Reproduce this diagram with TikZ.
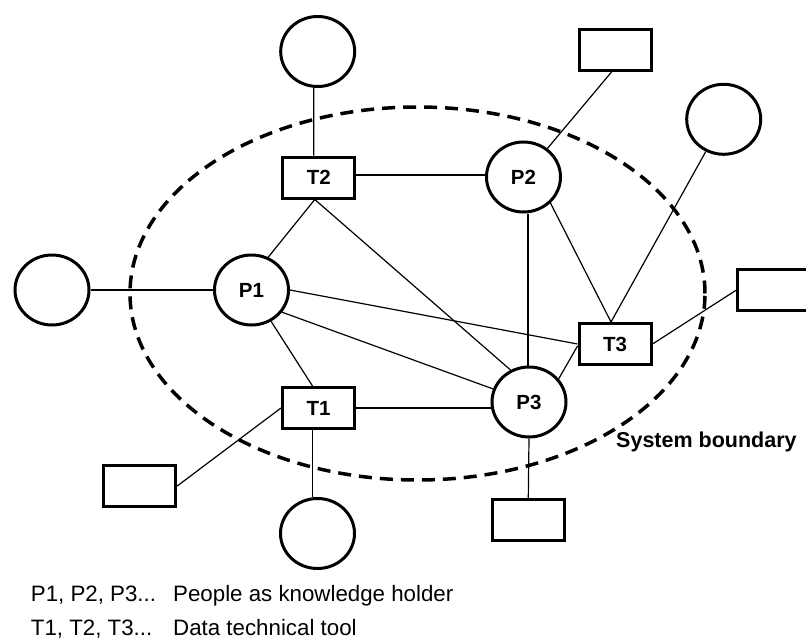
\documentclass[tikz,border=0pt]{standalone}
\usepackage{fontspec}
\setmainfont{Liberation Sans}
\usetikzlibrary{shapes.geometric}
\begin{document}
\begin{tikzpicture}[x=1pt,y=-1pt,
  person/.style={ellipse, draw, fill=white, line width=3pt, minimum width=74pt, minimum height=70pt, inner sep=0pt, font=\fontsize{20.5}{24}\selectfont\bfseries},
  tool/.style={rectangle, draw, fill=white, line width=3pt, minimum width=72pt, minimum height=41pt, inner sep=0pt, font=\fontsize{20.5}{24}\selectfont\bfseries},
  link/.style={line width=1.2pt},
  boundary/.style={line width=3.5pt, dash pattern=on 13pt off 8pt},
  legend/.style={anchor=base west, inner sep=0pt, font=\fontsize{22.3}{26}\selectfont},
  blabel/.style={anchor=base west, inner sep=0pt, font=\fontsize{21.5}{25}\selectfont\bfseries}]
\path[fill=white] (0,0) rectangle (806,642);
\useasboundingbox (0,0) rectangle (806,642);

% system boundary
\draw[boundary] (417.5,293.5) ellipse [x radius=287.5pt, y radius=186.5pt];

% nodes
\node[person] (C1) at (317.7,51.5) {};
\node[tool]   (T2) at (318.8,177.5) {T2};
\node[person] (P2) at (523.5,177) {P2};
\node[tool]   (R1) at (615.5,50) {};
\node[person] (C2) at (723.7,119.3) {};
\node[person] (C3) at (52,290) {};
\node[person] (P1) at (251.5,290) {P1};
\node[tool]   (R2) at (773.5,290.3) {};
\node[tool]   (T3) at (615,344) {T3};
\node[person] (P3) at (529,402) {P3};
\node[tool]   (T1) at (318.5,408) {T1};
\node[tool]   (R3) at (139.7,486) {};
\node[person] (C4) at (317.5,533.5) {};
\node[tool]   (R4) at (528.3,519.8) {};

% connectors
\draw[link] ([xshift=-4pt]C1.south) -- ([xshift=-5pt]T2.north);
\draw[link] ([yshift=2.5pt]T2.east) -- ([yshift=2pt]P2.west);
\draw[link] (P2) -- ([xshift=-4pt]R1.south);
\draw[link] ([xshift=-4pt]T2.south) -- (P1.63);
\draw[link] ([xshift=-4pt]T2.south) -- (P3.120);
\draw[link] ([xshift=4.5pt]P2.south) -- ([xshift=-1pt]P3.north);
\draw[link] (P2.-44) -- ([xshift=-4pt]T3.north);
\draw[link] (C2) -- ([xshift=-4pt]T3.north);
\draw[link] (T3.east) -- (R2.west);
\draw[link] (C3.east) -- (P1.west);
\draw[link] (P1.east) -- (T3.west);
\draw[link] (P1.-36) -- (P3.160);
\draw[link] (P1.-58) -- ([xshift=-6pt]T1.north);
\draw[link] (T1.east) -- (T1.east -| P3.west);
\draw[link] (P3.38) -- ([yshift=-2pt]T3.west);
\draw[link] (T1.west) -- (R3.east);
\draw[link] ([xshift=-6pt]T1.south) -- ([xshift=-5pt]C4.north);
\draw[link] (P3.south) -- (R4.north);

% labels
\node[blabel] (sb) at (616,447.3) {System boundary};
\node[legend] (l1a) at (30.7,601.5) {P1, P2, P3...};
\node[legend] (l1b) at (173,601.5) {People as knowledge holder};
\node[legend] (l2a) at (30.7,635.5) {T1, T2, T3...};
\node[legend] (l2b) at (173,635.5) {Data technical tool};
\end{tikzpicture}
\end{document}
